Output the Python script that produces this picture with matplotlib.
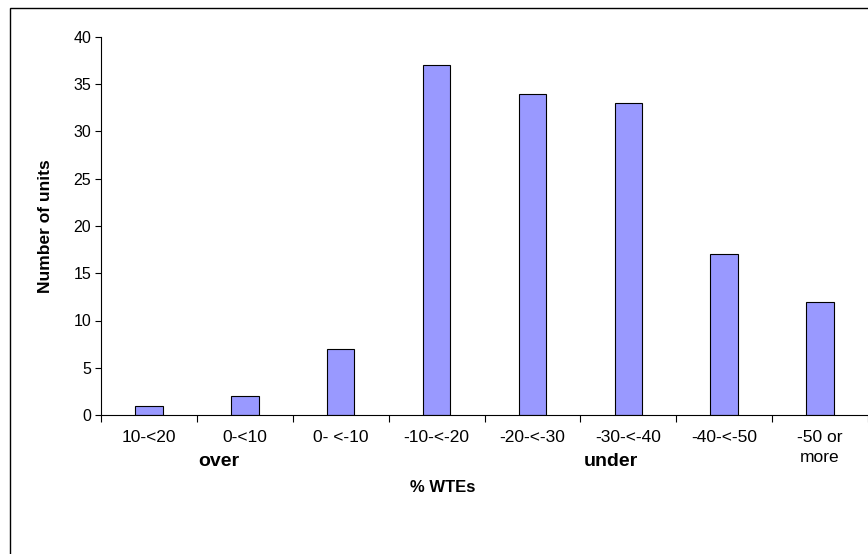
import matplotlib.pyplot as plt
import matplotlib.patches as patches
import numpy as np

plt.rcParams['font.family'] = ['Liberation Sans', 'DejaVu Sans']
plt.rcParams['font.size'] = 11

# data
categories = ['10-<20', '0-<10', '0- <-10', '-10-<-20', '-20-<-30',
              '-30-<-40', '-40-<-50', '-50 or\nmore']
units = [1, 2, 7, 37, 34, 33, 17, 12]

W, H = 868, 554
fig = plt.figure(figsize=(W / 100, H / 100), dpi=100)

# outer chart-area border (runs off the right and bottom edges)
fig.patches.append(patches.Rectangle((10 / W, -0.05), 1.0, 1.05 - 8 / H,
                                     transform=fig.transFigure, fill=False,
                                     edgecolor='black', linewidth=1.0))

ax = fig.add_axes([101 / W, 1 - 415 / H, (868 - 101) / W, (415 - 37) / H])

x = np.arange(len(categories))
ax.bar(x, units, width=0.2857, color='#9999FF', edgecolor='black', linewidth=0.8)

ax.set_xlim(-0.5, len(categories) - 0.5)
ax.set_ylim(0, 40)
ax.set_yticks(np.arange(0, 41, 5))

# ticks sit between categories, labels at centres
ax.set_xticks(np.arange(-0.5, len(categories), 1.0))
ax.set_xticklabels([])
ax.set_xticks(x, minor=True)
ax.set_xticklabels(categories, minor=True, va='top', fontsize=12.5,
                   linespacing=1.4)
ax.tick_params(axis='x', which='minor', length=0, pad=11)
ax.tick_params(axis='x', which='major', length=5, direction='out')
ax.tick_params(axis='y', length=4, direction='out', pad=3, labelsize=11.5)

for s in ['top', 'right']:
    ax.spines[s].set_visible(False)
ax.spines['left'].set_linewidth(0.8)
ax.spines['bottom'].set_linewidth(0.8)

ax.set_ylabel('Number of units', fontweight='bold', fontsize=12.5, labelpad=15)

# group labels under the axis
trans = ax.get_xaxis_transform()
ax.text(0.73, -46 / 378, 'over', transform=trans, ha='center', va='center',
        fontweight='bold', fontsize=14)
ax.text(4.82, -46 / 378, 'under', transform=trans, ha='center', va='center',
        fontweight='bold', fontsize=14)
ax.text(3.06, -72 / 378, '% WTEs', transform=trans, ha='center', va='center',
        fontweight='bold', fontsize=12)

fig.savefig('out.png', dpi=100)
